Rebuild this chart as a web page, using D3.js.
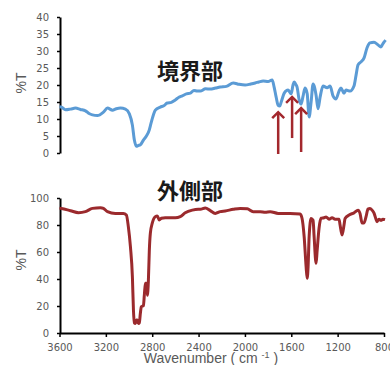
<!DOCTYPE html>
<html>
<head>
<meta charset="utf-8">
<script src="https://cdn.jsdelivr.net/npm/d3@7"></script>
<style>
  html, body { margin: 0; padding: 0; background: #fff; }
  svg { display: block; }
  .tick text { font-family: "DejaVu Sans", sans-serif; font-size: 10px; fill: #595959; }
</style>
</head>
<body>
<svg id="chart" width="390" height="365"></svg>
<script>
// IR spectra: boundary region (top) and outer region (bottom)
const boundaryWavenumber = [3600, 3583, 3548, 3505, 3462, 3420, 3376, 3345, 3316, 3273, 3221, 3186, 3143, 3110, 3074, 3031, 2997, 2971, 2954, 2937, 2920, 2902, 2876, 2850, 2825, 2816, 2790, 2773, 2730, 2700, 2670, 2635, 2601, 2570, 2540, 2505, 2471, 2440, 2411, 2385, 2340, 2299, 2255, 2213, 2160, 2101, 2050, 1998, 1950, 1911, 1880, 1843, 1800, 1765, 1748, 1731, 1713, 1700, 1687, 1661, 1627, 1601, 1585, 1575, 1562, 1550, 1532, 1515, 1498, 1481, 1463, 1446, 1429, 1412, 1386, 1369, 1351, 1326, 1291, 1265, 1240, 1214, 1188, 1171, 1145, 1127, 1093, 1059, 1041, 1024, 998, 972, 947, 921, 886, 852, 826, 812, 800, 786];
const boundaryT = [13.6, 13.5, 12.7, 12.9, 13.2, 12.8, 12.4, 11.6, 11.2, 11.0, 12.0, 13.2, 12.6, 13.0, 13.2, 12.9, 11.5, 8.2, 3.8, 2.0, 2.2, 2.4, 3.8, 5.0, 6.8, 8.0, 11.2, 12.6, 13.5, 13.9, 14.7, 14.9, 15.6, 16.4, 16.8, 17.4, 17.6, 18.4, 18.2, 18.2, 18.9, 18.8, 19.1, 19.4, 19.6, 20.6, 20.2, 20.0, 20.3, 20.6, 20.9, 21.2, 21.0, 21.5, 19.4, 16.5, 14.0, 13.8, 15.0, 17.6, 18.5, 17.4, 20.0, 20.9, 20.2, 19.4, 15.6, 14.4, 16.8, 19.1, 17.5, 10.6, 15.0, 20.3, 17.0, 13.0, 16.5, 19.7, 19.2, 19.7, 16.8, 15.9, 18.2, 19.1, 17.6, 18.5, 18.2, 19.7, 22.9, 25.9, 26.8, 28.0, 30.9, 32.4, 32.6, 31.8, 31.2, 32.0, 32.6, 33.2];

const outerWavenumber = [3600, 3583, 3505, 3436, 3376, 3316, 3247, 3221, 3186, 3118, 3049, 3023, 3006, 2988, 2971, 2962, 2954, 2945, 2937, 2928, 2919, 2911, 2902, 2894, 2876, 2868, 2859, 2850, 2842, 2833, 2825, 2816, 2799, 2773, 2756, 2739, 2721, 2687, 2601, 2558, 2515, 2454, 2403, 2385, 2342, 2299, 2256, 2213, 2170, 2101, 2041, 1980, 1929, 1868, 1825, 1782, 1713, 1610, 1524, 1507, 1489, 1472, 1463, 1455, 1446, 1429, 1412, 1403, 1386, 1377, 1360, 1343, 1317, 1300, 1274, 1248, 1222, 1188, 1179, 1162, 1145, 1136, 1101, 1059, 1024, 1007, 989, 972, 955, 938, 921, 903, 886, 869, 860, 843, 826, 809, 791];
const outerT = [92.5, 92.3, 90.6, 89.1, 89.9, 92.3, 92.8, 92.3, 89.9, 88.6, 88.6, 87.4, 78.8, 63.9, 41.7, 17.0, 7.4, 7.0, 9.6, 9.6, 7.0, 7.6, 14.8, 19.5, 20.3, 28.0, 36.8, 36.8, 28.0, 39.0, 61.0, 74.0, 81.5, 86.2, 86.7, 83.7, 85.0, 85.4, 85.4, 86.2, 89.1, 91.0, 91.6, 91.6, 92.6, 90.6, 88.6, 89.9, 90.4, 91.6, 92.3, 92.0, 89.9, 89.9, 89.4, 89.9, 88.6, 88.6, 88.1, 84.8, 71.4, 49.0, 40.5, 49.0, 71.4, 84.8, 83.5, 71.4, 51.6, 61.0, 78.0, 85.0, 85.4, 86.0, 84.3, 85.4, 84.3, 84.3, 80.0, 72.6, 80.0, 84.8, 87.4, 89.0, 91.0, 88.6, 81.5, 81.5, 86.2, 91.8, 92.3, 91.0, 88.8, 84.3, 82.5, 84.3, 83.5, 84.3, 84.0];

// Arrows marking the bands of interest in the boundary spectrum
const arrowWavenumber = [1713, 1593, 1515];
const arrowTipT = [12.0, 16.5, 13.2];
const arrowBaseT = [-0.3, 4.4, 0.3];

const xTicks = [3600, 3200, 2800, 2400, 2000, 1600, 1200, 800];
const topTicks = [0, 5, 10, 15, 20, 25, 30, 35, 40];
const bottomTicks = [0, 20, 40, 60, 80, 100];

const titleTop = "境界部";
const titleBottom = "外側部";

const svg = d3.select("#chart");

const x = d3.scaleLinear().domain([3600, 800]).range([59.5, 384]);
const yTop = d3.scaleLinear().domain([0, 40]).range([153, 17]);
const yBot = d3.scaleLinear().domain([0, 100]).range([333, 198]);

const axisColor = "#000";
const textGray = "#595959";

function styleAxis(g) {
  g.select(".domain").attr("stroke", axisColor).attr("stroke-width", 2);
  g.selectAll(".tick line").attr("stroke", axisColor).attr("stroke-width", 1.5);
}

// top panel y axis
svg.append("g")
  .attr("transform", "translate(60,0)")
  .call(d3.axisLeft(yTop).tickValues(topTicks).tickSize(3).tickSizeOuter(0).tickPadding(8))
  .call(styleAxis);

// bottom panel y axis
svg.append("g")
  .attr("transform", "translate(60,0)")
  .call(d3.axisLeft(yBot).tickValues(bottomTicks).tickSize(3).tickSizeOuter(0).tickPadding(8))
  .call(styleAxis);

// bottom panel x axis
svg.append("g")
  .attr("transform", "translate(0,333)")
  .call(d3.axisBottom(x).tickValues(xTicks).tickFormat(d3.format("d")).tickSize(4).tickSizeOuter(0).tickPadding(7))
  .call(styleAxis);

// spectra
const lineTop = d3.line()
  .x((d, i) => x(boundaryWavenumber[i]))
  .y(d => yTop(d))
  .curve(d3.curveMonotoneX);

const lineBot = d3.line()
  .x((d, i) => x(outerWavenumber[i]))
  .y(d => yBot(d))
  .curve(d3.curveMonotoneX);

svg.append("path")
  .datum(boundaryT)
  .attr("d", lineTop)
  .attr("fill", "none")
  .attr("stroke", "#5b9bd5")
  .attr("stroke-width", 3)
  .attr("stroke-linejoin", "round");

svg.append("path")
  .datum(outerT)
  .attr("d", lineBot)
  .attr("fill", "none")
  .attr("stroke", "#9b2a2d")
  .attr("stroke-width", 3)
  .attr("stroke-linejoin", "round");

// arrows
const arrowColor = "#a3282d";
arrowWavenumber.forEach((wn, i) => {
  const ax = x(wn);
  const tip = yTop(arrowTipT[i]);
  const base = yTop(arrowBaseT[i]);
  svg.append("line")
    .attr("x1", ax).attr("x2", ax)
    .attr("y1", tip + 1).attr("y2", base)
    .attr("stroke", arrowColor).attr("stroke-width", 2.5);
  svg.append("path")
    .attr("d", `M${ax - 6},${tip + 6}L${ax},${tip}L${ax + 6},${tip + 6}`)
    .attr("fill", "none")
    .attr("stroke", arrowColor)
    .attr("stroke-width", 2.5);
});

// panel titles
svg.append("text")
  .attr("x", 190).attr("y", 79)
  .attr("text-anchor", "middle")
  .attr("font-family", "'Noto Sans CJK JP', sans-serif")
  .attr("font-weight", "bold")
  .attr("font-size", 22)
  .attr("fill", "#1a1a1a")
  .text(titleTop);

svg.append("text")
  .attr("x", 190).attr("y", 199)
  .attr("text-anchor", "middle")
  .attr("font-family", "'Noto Sans CJK JP', sans-serif")
  .attr("font-weight", "bold")
  .attr("font-size", 22)
  .attr("fill", "#1a1a1a")
  .text(titleBottom);

// y axis titles
[[21, 83], [21, 260]].forEach(([cx, cy]) => {
  svg.append("text")
    .attr("transform", `translate(${cx},${cy}) rotate(-90)`)
    .attr("text-anchor", "middle")
    .attr("dy", "0.35em")
    .attr("font-family", "'Liberation Sans', Arial, sans-serif")
    .attr("font-size", 14)
    .attr("fill", textGray)
    .text("%T");
});

// x axis title
const xt = svg.append("text")
  .attr("x", 211).attr("y", 363)
  .attr("text-anchor", "middle")
  .attr("font-family", "'Liberation Sans', Arial, sans-serif")
  .attr("font-size", 14)
  .attr("fill", textGray);
xt.append("tspan").text("Wavenumber ( cm ");
xt.append("tspan").attr("dy", -5).attr("font-size", 9).text("-1");
xt.append("tspan").attr("dy", 5).text(" )");
</script>
</body>
</html>
